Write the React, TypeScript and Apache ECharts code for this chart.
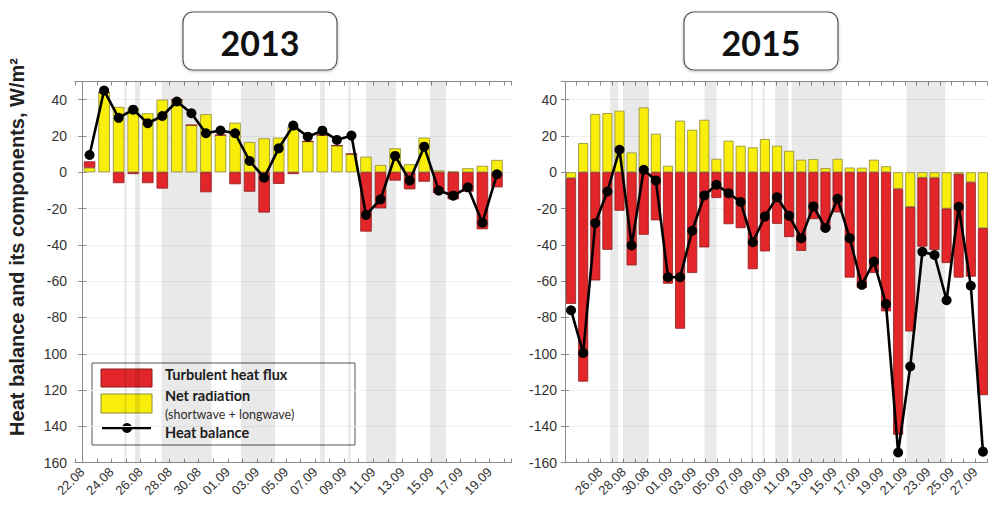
import React, { useEffect, useRef } from 'react';
import * as echarts from 'echarts';

// ---------- data ----------
const dates2013 = ['22.08','23.08','24.08','25.08','26.08','27.08','28.08','29.08','30.08','31.08',
  '01.09','02.09','03.09','04.09','05.09','06.09','07.09','08.09','09.09','10.09',
  '11.09','12.09','13.09','14.09','15.09','16.09','17.09','18.09','19.09'];
const netRadiation2013 = [2.5, 44, 36, 35.5, 32.5, 40, 40, 26, 32, 20.5, 27.3, 16.7, 18.7, 19.1, 25.1, 17, 20.5, 14.7, 10.1, 8.6, 4, 13.2, 4.4, 19.1, 1, 0.5, 2.2, 3.5, 6.8];
const turbulent2013 = [3.5, 0, -6, -1, -6, -9, 0, 0, -11, 0, -6.6, -10.7, -22.2, -6.4, -1, 0, 0, 0, 0, -32.7, -19.9, -4.6, -9.4, -5.2, -11.6, -14.9, -10.7, -31.4, -8.3];
const balance2013 = [9.5, 45, 30, 34.5, 27, 31, 39, 32.5, 21.5, 23, 21.5, 6.2, -3, 13.2, 25.7, 19.6, 22.9, 17.8, 20.2, -23.5, -14.9, 9, -4.6, 14.1, -10.1, -12.9, -8.3, -27.8, -1.1];
const tickLabels2013 = ['22.08','24.08','26.08','28.08','30.08','01.09','03.09','05.09','07.09','09.09','11.09','13.09','15.09','17.09','19.09'];
// shaded periods, in days after 22.08 00:00
const bands2013 = [[2.89, 3.05], [3.62, 3.97], [5.45, 8.89], [10.91, 13.25], [16.34, 16.68], [18.28, 18.45], [19.5, 21.56], [23.9, 25.0]];

const dates2015 = ['23.08','24.08','25.08','26.08','27.08','28.08','29.08','30.08','31.08',
  '01.09','02.09','03.09','04.09','05.09','06.09','07.09','08.09','09.09','10.09',
  '11.09','12.09','13.09','14.09','15.09','16.09','17.09','18.09','19.09','20.09',
  '21.09','22.09','23.09','24.09','25.09','26.09'];
const netRadiation2015 = [-3.2, 16.1, 32.1, 32.6, 33.9, 10.9, 35.7, 21.2, 3.6, 28.4, 23.4, 28.9, 7.4, 17.4, 14.6, 13.7, 18.3, 14.6, 11.8, 6.9, 7.2, 2.3, 7.4, 2.6, 2.5, 6.9, 3.3, -9.1, -19.1, -3, -3, -20, -1, -5.5, -30.8];
const turbulent2015 = [-69.3, -115.3, -59.6, -42.7, -21.2, -51.3, -34.4, -26.5, -61.4, -86.2, -55.5, -41.4, -14.2, -28.6, -30.8, -53.4, -43.6, -28.4, -35.7, -43.3, -25.8, -31.7, -22.1, -58, -63.8, -55.5, -76.6, -135.5, -68.6, -38, -39.8, -30, -57, -52, -92];
const balance2015 = [-76, -99.5, -28, -10.6, 12.4, -40.3, 1.4, -4.5, -57.8, -57.8, -32.2, -12.8, -6.9, -11.5, -16.4, -38.5, -24.4, -13.7, -24, -36.3, -18.8, -30.7, -14.6, -36.3, -62, -49.2, -72.6, -154.4, -107, -43.8, -45.6, -70.5, -19, -62.5, -153.9];
const tickLabels2015 = ['26.08','28.08','30.08','01.09','03.09','05.09','07.09','09.09','11.09','13.09','15.09','17.09','19.09','21.09','23.09','25.09','27.09'];
// shaded periods, in days after 23.08 00:00
const bands2015 = [[3.85, 4.54], [4.95, 7.15], [11.91, 12.93], [15.87, 16.03], [16.86, 17.05], [17.93, 19.06], [19.33, 23.65], [29.15, 32.45]];

const years = ['2013', '2015'];
const yTitle = 'Heat balance and its components, W/m²';
const legendNames = ['Turbulent heat flux', 'Net radiation', '(shortwave + longwave)', 'Heat balance'];

// ---------- styles ----------
const RED = '#e3262a';
const RED_EDGE = '#8e1d1d';
const YEL = '#f9ee0a';
const YEL_EDGE = '#8d8a3c';
const AXIS = '#8a8a8a';
const LABEL = '#333333';
const SANS = "'Liberation Sans', Arial, sans-serif";
const TITLE_FONT = "Lato, 'Open Sans', sans-serif";

const PLOT_TOP = 81.5;
const PLOT_H = 381.2;
const PLOT_W = 436.5;

function dayOffset(label: string, start: string): number {
  const [d, m] = label.split('.').map(Number);
  const [sd, sm] = start.split('.').map(Number);
  return Math.round((Date.UTC(2000, m - 1, d) - Date.UTC(2000, sm - 1, sd)) / 86400000);
}

function App() {
  const ref = useRef<HTMLDivElement>(null);

  useEffect(() => {
    if (!ref.current) return;
    const chart = echarts.init(ref.current, null, { renderer: 'svg' });

    const panels = [
      { start: '22.08', dates: dates2013, net: netRadiation2013, turb: turbulent2013, bal: balance2013, ticks: tickLabels2013, bands: bands2013, min: -0.5, max: 29.5, left: 75, barW: 11.5, stripMinus: true },
      { start: '23.08', dates: dates2015, net: netRadiation2015, turb: turbulent2015, bal: balance2015, ticks: tickLabels2015, bands: bands2015, min: 0, max: 36, left: 565, barW: 10, stripMinus: false },
    ];

    const grid: any[] = [];
    const xAxis: any[] = [];
    const yAxis: any[] = [];
    const series: any[] = [];

    // visible frame grids (0, 1)
    panels.forEach((p, gi) => {
      grid.push({ left: p.left, top: PLOT_TOP, width: PLOT_W, height: PLOT_H, containLabel: false });
      const xBase = {
        type: 'value', gridIndex: gi, min: p.min, max: p.max, splitNumber: 30,
        minInterval: 1, maxInterval: 1,
        axisLine: { show: true, onZero: false, lineStyle: { color: AXIS, width: 1 } },
        axisTick: { show: true, inside: true, length: 4, lineStyle: { color: AXIS } },
        splitLine: { show: false },
      };
      xAxis.push({
        ...xBase, position: 'bottom',
        axisLabel: {
          show: true, rotate: 45, margin: 7, fontSize: 13, color: LABEL, fontFamily: SANS,
          showMinLabel: true, showMaxLabel: true,
          formatter: (v: number) => {
            const k = Math.round(v);
            if (Math.abs(v - k) > 1e-6) return '';
            const lab = p.ticks.find((s) => dayOffset(s, p.start) === k);
            return lab || '';
          },
        },
      });
      xAxis.push({ ...xBase, position: 'top', axisLabel: { show: false } });
      const yBase = {
        type: 'value', gridIndex: gi, min: -160, max: 50, interval: 20,
        axisLine: { show: true, lineStyle: { color: AXIS, width: 1 } },
        axisTick: { show: true, inside: true, length: 4, lineStyle: { color: AXIS } },
      };
      yAxis.push({
        ...yBase, position: 'left',
        splitLine: { show: true, lineStyle: { color: '#f0f0f0', width: 1 } },
        axisLabel: {
          show: true, margin: 8, fontSize: 14, color: LABEL, fontFamily: SANS,
          formatter: (v: number) => {
            if (v > 40) return '';
            if (p.stripMinus && v <= -100) return String(-v);
            return String(v);
          },
        },
      });
      yAxis.push({ ...yBase, position: 'right', splitLine: { show: false }, axisLabel: { show: false } });

      series.push({
        type: 'line', name: 'bands' + gi, xAxisIndex: gi * 2, yAxisIndex: gi * 2, data: [], z: 0, silent: true,
        markArea: {
          silent: true,
          itemStyle: { color: 'rgba(0,0,0,0.085)', borderWidth: 0 },
          data: p.bands.map((b) => [{ xAxis: b[0], yAxis: -160 }, { xAxis: b[1], yAxis: 50 }]),
        },
      });
    });

    // hidden category grids for the daily bars and line (2, 3)
    panels.forEach((p, pi) => {
      const gi = 2 + pi;
      const first = dayOffset(p.dates[0], p.start);
      const last = dayOffset(p.dates[p.dates.length - 1], p.start) + 1;
      const pxPerDay = PLOT_W / (p.max - p.min);
      grid.push({ left: p.left + (first - p.min) * pxPerDay, top: PLOT_TOP, width: (last - first) * pxPerDay, height: PLOT_H, containLabel: false });
      const xi = xAxis.length;
      xAxis.push({ type: 'category', gridIndex: gi, data: p.dates, boundaryGap: true, show: false });
      const yi = yAxis.length;
      yAxis.push({ type: 'value', gridIndex: gi, min: -160, max: 50, interval: 20, show: false, splitLine: { show: false } });

      series.push({
        type: 'bar', name: 'Net radiation', stack: 'comp' + pi, xAxisIndex: xi, yAxisIndex: yi,
        barWidth: p.barW, z: 2,
        itemStyle: { color: YEL, borderColor: YEL_EDGE, borderWidth: 0.8 },
        data: p.net,
      });
      series.push({
        type: 'bar', name: 'Turbulent heat flux', stack: 'comp' + pi, xAxisIndex: xi, yAxisIndex: yi,
        barWidth: p.barW, z: 2,
        itemStyle: { color: RED, borderColor: RED_EDGE, borderWidth: 0.8 },
        data: p.turb,
      });
      series.push({
        type: 'line', name: 'Heat balance', xAxisIndex: xi, yAxisIndex: yi, z: 5,
        symbol: 'circle', symbolSize: 10, showSymbol: true, showAllSymbol: true,
        lineStyle: { color: '#000', width: 2.6 }, itemStyle: { color: '#000' },
        data: p.bal,
      });
    });

    const titleBox = (cx: number, text: string) => ({
      type: 'group',
      children: [
        { type: 'rect', shape: { x: cx - 77, y: 12, width: 154, height: 58, r: 10 },
          style: { fill: '#fff', stroke: '#555', lineWidth: 1.2, shadowBlur: 3, shadowColor: 'rgba(0,0,0,0.25)', shadowOffsetY: 1 } },
        { type: 'text', x: cx, y: 42, style: { text, fontSize: 34, fontWeight: 'bold', fontFamily: TITLE_FONT, fill: '#111', align: 'center', verticalAlign: 'middle' } },
      ],
    });

    const graphic: any[] = [
      titleBox(260, years[0]),
      titleBox(761, years[1]),
      {
        type: 'text', x: 17, y: 247, rotation: Math.PI / 2,
        style: { text: yTitle, fontSize: 20, fontWeight: 'bold', fontFamily: SANS, fill: '#222', align: 'center', verticalAlign: 'middle' },
      },
      {
        type: 'group', z: 100,
        children: [
          { type: 'rect', shape: { x: 92, y: 363, width: 263, height: 82 }, style: { fill: '#fff', stroke: '#555', lineWidth: 1 } },
          { type: 'rect', shape: { x: 101, y: 369, width: 51, height: 18 }, style: { fill: RED, stroke: RED_EDGE, lineWidth: 1 } },
          { type: 'rect', shape: { x: 101, y: 394, width: 51, height: 19 }, style: { fill: YEL, stroke: YEL_EDGE, lineWidth: 1 } },
          { type: 'line', shape: { x1: 102, y1: 428, x2: 151, y2: 428 }, style: { stroke: '#000', lineWidth: 2.6 } },
          { type: 'circle', shape: { cx: 127, cy: 428, r: 5 }, style: { fill: '#000' } },
          { type: 'text', x: 165, y: 374, style: { text: legendNames[0], fontSize: 14.5, fontWeight: 'bold', fontFamily: TITLE_FONT, fill: '#222', verticalAlign: 'middle' } },
          { type: 'text', x: 165, y: 395, style: { text: legendNames[1], fontSize: 14.5, fontWeight: 'bold', fontFamily: TITLE_FONT, fill: '#222', verticalAlign: 'middle' } },
          { type: 'text', x: 165, y: 414, style: { text: legendNames[2], fontSize: 12.5, fontFamily: TITLE_FONT, fill: '#333', verticalAlign: 'middle' } },
          { type: 'text', x: 165, y: 432, style: { text: legendNames[3], fontSize: 14.5, fontWeight: 'bold', fontFamily: TITLE_FONT, fill: '#222', verticalAlign: 'middle' } },
        ],
      },
    ];

    chart.setOption({
      animation: false,
      backgroundColor: '#ffffff',
      grid, xAxis, yAxis, series, graphic,
    });

    return () => chart.dispose();
  }, []);

  return <div ref={ref} style={{ position: 'fixed', left: 0, top: 0, width: 989, height: 510 }} />;
}

export default App;
